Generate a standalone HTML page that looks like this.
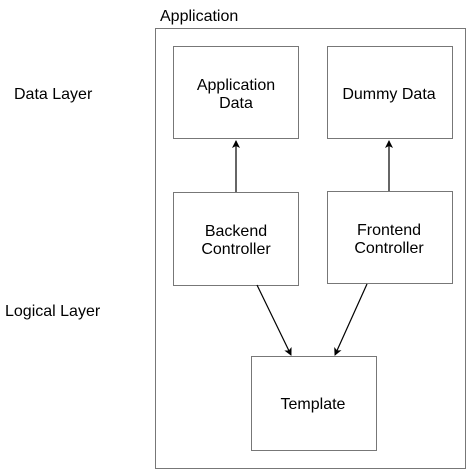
<!DOCTYPE html>
<html><head><style>
body{margin:0;background:#fff;}
svg text{font-family:"Liberation Sans",Arial,sans-serif;font-size:16px;fill:#000;}
</style></head><body>
<svg width="467" height="470" xmlns="http://www.w3.org/2000/svg">
<defs><marker id="a" markerWidth="8" markerHeight="8" refX="7" refY="4" orient="auto" markerUnits="userSpaceOnUse"><path d="M0,0 L8,4 L0,8 L2,4 z" fill="#000"/></marker></defs>
<g fill="none" stroke="#777" stroke-width="1">
<rect x="155.5" y="28.5" width="310" height="440"/>
<rect x="173.5" y="46.5" width="125" height="92"/>
<rect x="327.5" y="46.5" width="125" height="92"/>
<rect x="173.5" y="192.5" width="125" height="93"/>
<rect x="327.5" y="191.5" width="125" height="92"/>
<rect x="251.5" y="356.5" width="125" height="94"/>
</g>
<g stroke="#000" stroke-width="1.2" marker-end="url(#a)">
<line x1="236" y1="192" x2="236" y2="141"/>
<line x1="389" y1="191" x2="389" y2="141"/>
<line x1="257" y1="285" x2="291" y2="355"/>
<line x1="367" y1="284" x2="335" y2="355"/>
</g>
<text x="160" y="21">Application</text>
<text x="14" y="99">Data Layer</text>
<text x="5" y="316">Logical Layer</text>
<g text-anchor="middle">
<text x="236" y="90">Application</text>
<text x="236" y="108">Data</text>
<text x="389" y="99">Dummy Data</text>
<text x="236" y="236">Backend</text>
<text x="236" y="254">Controller</text>
<text x="389" y="235">Frontend</text>
<text x="389" y="253">Controller</text>
<text x="313" y="409">Template</text>
</g>
</svg>
</body></html>
